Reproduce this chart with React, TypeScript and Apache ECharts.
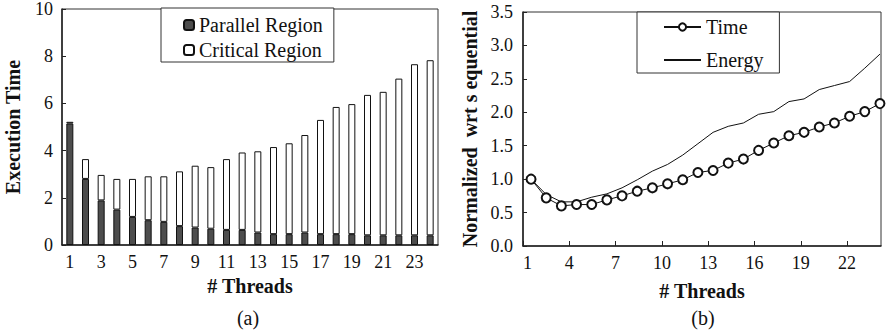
import React, { useEffect, useRef } from "react";
import * as echarts from "echarts";

const threads = [1, 2, 3, 4, 5, 6, 7, 8, 9, 10, 11, 12, 13, 14, 15, 16, 17, 18, 19, 20, 21, 22, 23, 24];
const parallelRegion = [5.15, 2.8, 1.89, 1.5, 1.19, 1.05, 0.98, 0.8, 0.74, 0.69, 0.64, 0.64, 0.53, 0.46, 0.46, 0.53, 0.46, 0.46, 0.46, 0.41, 0.41, 0.41, 0.41, 0.41];
const criticalRegion = [0.07, 0.84, 1.08, 1.3, 1.61, 1.86, 1.93, 2.32, 2.62, 2.61, 3.0, 3.28, 3.44, 3.69, 3.85, 4.13, 4.84, 5.39, 5.51, 5.95, 6.08, 6.64, 7.25, 7.42];
const timeNorm = [1.0, 0.72, 0.6, 0.62, 0.62, 0.69, 0.75, 0.82, 0.87, 0.93, 0.99, 1.1, 1.13, 1.24, 1.3, 1.43, 1.54, 1.65, 1.7, 1.78, 1.84, 1.94, 2.01, 2.13];
const energyNorm = [1.0, 0.77, 0.66, 0.66, 0.73, 0.78, 0.87, 0.99, 1.12, 1.22, 1.36, 1.53, 1.7, 1.79, 1.84, 1.97, 2.01, 2.16, 2.2, 2.34, 2.4, 2.46, 2.66, 2.87];

const FONT = "'Liberation Serif', 'Times New Roman', Times, serif";

export default function App() {
  const ref = useRef<HTMLDivElement>(null);
  useEffect(() => {
    const chart = echarts.init(ref.current as HTMLDivElement, null, { renderer: "svg" });
    const axisLine = { show: true, onZero: false, lineStyle: { color: "#222", width: 1.5 } };
    const labelStyle = { color: "#111", fontSize: 18, fontFamily: FONT };
    const nameStyle = { color: "#111", fontSize: 20, fontWeight: "bold" as const, fontFamily: FONT };
    chart.setOption({
      animation: false,
      textStyle: { fontFamily: FONT },
      grid: [
        { left: 62, top: 7, width: 376, height: 238, show: true, borderColor: "#333", borderWidth: 1, backgroundColor: "transparent" },
        { left: 523, top: 12, width: 358, height: 234, show: true, borderColor: "#333", borderWidth: 1, backgroundColor: "transparent" },
      ],
      legend: [
        {
          data: ["Parallel Region", "Critical Region"],
          orient: "vertical",
          left: 161,
          top: 8,
          padding: [7, 11, 2, 22],
          itemGap: 5,
          itemWidth: 10,
          itemHeight: 10,
          borderColor: "#333",
          borderWidth: 1,
          backgroundColor: "#fff",
          textStyle: { color: "#111", fontSize: 20, fontFamily: FONT, lineHeight: 20 },
        },
        {
          data: ["Time", { name: "Energy", itemStyle: { opacity: 0 } }],
          orient: "vertical",
          left: 637,
          top: 12,
          padding: [5, 16, 3, 26],
          itemGap: 13,
          itemWidth: 37,
          itemHeight: 9,
          borderColor: "#333",
          borderWidth: 1,
          backgroundColor: "#fff",
          textStyle: { color: "#111", fontSize: 20, fontFamily: FONT, lineHeight: 20 },
        },
      ],
      xAxis: [
        {
          type: "category",
          gridIndex: 0,
          data: threads.map(String),
          boundaryGap: true,
          axisLine,
          axisTick: { show: false },
          axisLabel: { ...labelStyle, interval: 1, margin: 8 },
          name: "# Threads",
          nameLocation: "middle",
          nameGap: 31,
          nameTextStyle: nameStyle,
        },
        {
          type: "value",
          gridIndex: 1,
          min: 0,
          max: 23.2,
          interval: 3,
          axisLine,
          axisTick: { show: true, inside: true, length: 5, lineStyle: { color: "#222" } },
          axisLabel: {
            ...labelStyle,
            margin: 8,
            showMaxLabel: false,
            alignMinLabel: "left",
            formatter: (v: number) => (Number.isInteger(v) && threads[v] !== undefined ? String(threads[v]) : ""),
          },
          splitLine: { show: false },
          name: "# Threads",
          nameLocation: "middle",
          nameGap: 35,
          nameTextStyle: nameStyle,
        },
        {
          type: "value",
          gridIndex: 1,
          min: 0.47,
          max: 24.07,
          show: false,
          splitLine: { show: false },
        },
      ],
      yAxis: [
        {
          type: "value",
          gridIndex: 0,
          min: 0,
          max: 10,
          interval: 2,
          axisLine,
          axisTick: { show: true, inside: true, length: 4, lineStyle: { color: "#222" } },
          axisLabel: { ...labelStyle, margin: 9 },
          splitLine: { show: false },
          name: "Execution Time",
          nameLocation: "middle",
          nameGap: 39,
          nameTextStyle: nameStyle,
        },
        {
          type: "value",
          gridIndex: 1,
          min: 0,
          max: 3.5,
          interval: 0.5,
          axisLine,
          axisTick: { show: true, inside: true, length: 4, lineStyle: { color: "#222" } },
          axisLabel: { ...labelStyle, margin: 10, formatter: (v: number) => v.toFixed(1) },
          splitLine: { show: false },
          name: "Normalized  wrt s equential",
          nameLocation: "middle",
          nameGap: 43,
          nameTextStyle: nameStyle,
        },
      ],
      series: [
        {
          name: "Parallel Region",
          type: "bar",
          stack: "exec",
          xAxisIndex: 0,
          yAxisIndex: 0,
          barWidth: 7,
          data: parallelRegion,
          itemStyle: { color: "#4d4d4d", borderColor: "#111", borderWidth: 1 },
        },
        {
          name: "Critical Region",
          type: "bar",
          stack: "exec",
          xAxisIndex: 0,
          yAxisIndex: 0,
          barWidth: 7,
          data: criticalRegion,
          itemStyle: { color: "#fff", borderColor: "#111", borderWidth: 1 },
        },
        {
          name: "Time",
          type: "line",
          xAxisIndex: 2,
          yAxisIndex: 1,
          data: threads.map((t, i) => [t, timeNorm[i]]),
          symbol: "emptyCircle",
          symbolSize: 9,
          lineStyle: { color: "#111", width: 1 },
          itemStyle: { color: "#111", borderColor: "#111", borderWidth: 1 },
        },
        {
          name: "Energy",
          type: "line",
          xAxisIndex: 2,
          yAxisIndex: 1,
          data: threads.map((t, i) => [t, energyNorm[i]]),
          symbol: "none",
          lineStyle: { color: "#111", width: 1 },
          itemStyle: { color: "#111", opacity: 0 },
        },
      ],
      graphic: [
        {
          type: "text",
          x: 248,
          y: 318,
          style: { text: "(a)", fill: "#111", fontSize: 20, fontFamily: FONT, align: "center", verticalAlign: "middle" },
        },
        {
          type: "text",
          x: 703,
          y: 318,
          style: { text: "(b)", fill: "#111", fontSize: 20, fontFamily: FONT, align: "center", verticalAlign: "middle" },
        },
      ],
    });
    return () => chart.dispose();
  }, []);
  return (
    <div
      ref={ref}
      style={{ position: "absolute", left: 0, top: 0, width: 889, height: 335, background: "#fff" }}
    />
  );
}
